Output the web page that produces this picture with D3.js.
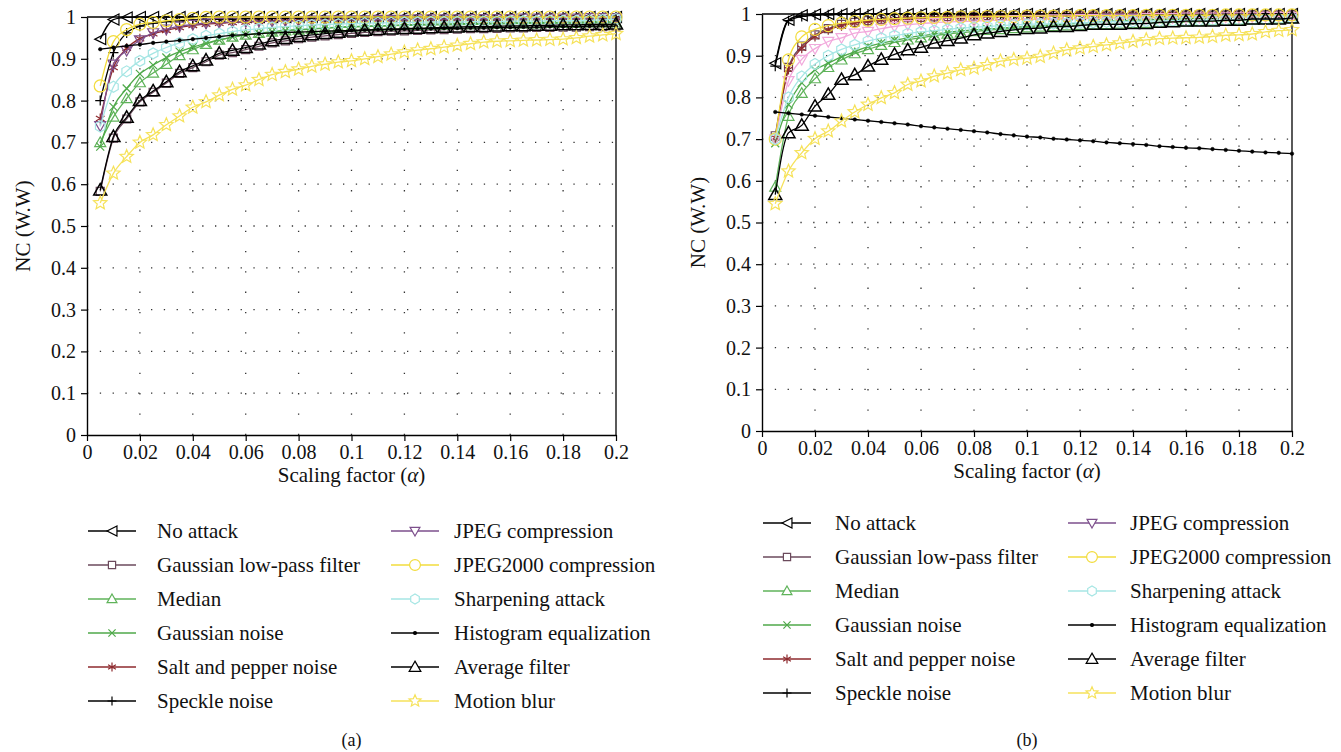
<!DOCTYPE html>
<html>
<head>
<meta charset="utf-8">
<script src="https://cdn.jsdelivr.net/npm/d3@7"></script>
<style>
  body { margin: 0; background: #fff; }
  svg { display: block; font-family: "Liberation Serif", "Times New Roman", serif; }
</style>
</head>
<body>
<svg width="1341" height="752"></svg>
<script>
// ---- data ----
const alphaValues = [0.005, 0.01, 0.015, 0.02, 0.025, 0.03, 0.035, 0.04, 0.045, 0.05,
  0.055, 0.06, 0.065, 0.07, 0.075, 0.08, 0.085, 0.09, 0.095, 0.1,
  0.105, 0.11, 0.115, 0.12, 0.125, 0.13, 0.135, 0.14, 0.145, 0.15,
  0.155, 0.16, 0.165, 0.17, 0.175, 0.18, 0.185, 0.19, 0.195, 0.2];

const xTicks = [0, 0.02, 0.04, 0.06, 0.08, 0.1, 0.12, 0.14, 0.16, 0.18, 0.2];
const xTickLabels = ["0", "0.02", "0.04", "0.06", "0.08", "0.1", "0.12", "0.14", "0.16", "0.18", "0.2"];
const yTicks = [0, 0.1, 0.2, 0.3, 0.4, 0.5, 0.6, 0.7, 0.8, 0.9, 1];
const yTickLabels = ["0", "0.1", "0.2", "0.3", "0.4", "0.5", "0.6", "0.7", "0.8", "0.9", "1"];

const seriesNames = ["No attack", "Gaussian low-pass filter", "Median", "Gaussian noise",
  "Salt and pepper noise", "Speckle noise", "JPEG compression", "JPEG2000 compression",
  "Sharpening attack", "Histogram equalization", "Average filter", "Motion blur"];

// panel (a)
const noAttackA = [0.947, 0.994, 0.999, 1, 1, 1, 1, 1, 1, 1,
  1, 1, 1, 1, 1, 1, 1, 1, 1, 1,
  1, 1, 1, 1, 1, 1, 1, 1, 1, 1,
  1, 1, 1, 1, 1, 1, 1, 1, 1, 1];
const lowPassA = [0.583, 0.710, 0.756, 0.797, 0.820, 0.842, 0.865, 0.879, 0.893, 0.909,
  0.915, 0.922, 0.930, 0.938, 0.943, 0.948, 0.952, 0.955, 0.958, 0.961,
  0.963, 0.965, 0.966, 0.967, 0.968, 0.969, 0.970, 0.971, 0.972, 0.972,
  0.973, 0.974, 0.974, 0.975, 0.975, 0.976, 0.976, 0.977, 0.977, 0.978];
const medianA = [0.700, 0.761, 0.805, 0.843, 0.866, 0.887, 0.908, 0.922, 0.935, 0.945,
  0.952, 0.957, 0.961, 0.964, 0.967, 0.969, 0.971, 0.973, 0.975, 0.976,
  0.977, 0.978, 0.979, 0.980, 0.980, 0.981, 0.981, 0.982, 0.982, 0.983,
  0.983, 0.984, 0.984, 0.984, 0.985, 0.985, 0.985, 0.986, 0.986, 0.986];
const gaussNoiseA = [0.690, 0.785, 0.829, 0.864, 0.885, 0.903, 0.917, 0.928, 0.937, 0.945,
  0.952, 0.957, 0.961, 0.965, 0.968, 0.970, 0.972, 0.974, 0.976, 0.977,
  0.978, 0.979, 0.980, 0.981, 0.982, 0.983, 0.983, 0.984, 0.984, 0.985,
  0.985, 0.986, 0.986, 0.987, 0.987, 0.987, 0.988, 0.988, 0.988, 0.989];
const saltPepperA = [0.757, 0.879, 0.925, 0.948, 0.960, 0.968, 0.975, 0.980, 0.983, 0.985,
  0.987, 0.988, 0.989, 0.990, 0.991, 0.992, 0.992, 0.993, 0.993, 0.994,
  0.994, 0.994, 0.995, 0.995, 0.995, 0.996, 0.996, 0.996, 0.996, 0.997,
  0.997, 0.997, 0.997, 0.997, 0.998, 0.998, 0.998, 0.998, 0.998, 0.998];
const speckleA = [0.800, 0.915, 0.962, 0.978, 0.985, 0.989, 0.991, 0.993, 0.994, 0.995,
  0.995, 0.996, 0.996, 0.997, 0.997, 0.997, 0.998, 0.998, 0.998, 0.998,
  0.998, 0.999, 0.999, 0.999, 0.999, 0.999, 0.999, 0.999, 0.999, 0.999,
  1, 1, 1, 1, 1, 1, 1, 1, 1, 1];
const jpegA = [0.740, 0.887, 0.920, 0.945, 0.962, 0.971, 0.978, 0.982, 0.985, 0.987,
  0.988, 0.989, 0.990, 0.990, 0.991, 0.991, 0.992, 0.992, 0.993, 0.993,
  0.993, 0.994, 0.994, 0.994, 0.995, 0.995, 0.995, 0.995, 0.996, 0.996,
  0.996, 0.996, 0.997, 0.997, 0.997, 0.997, 0.997, 0.998, 0.998, 0.998];
const jpeg2000A = [0.835, 0.941, 0.970, 0.983, 0.987, 0.991, 0.994, 0.997, 0.999, 1,
  1, 1, 1, 1, 1, 1, 1, 1, 1, 1,
  1, 1, 1, 1, 1, 1, 1, 1, 1, 1,
  1, 1, 1, 1, 1, 1, 1, 1, 1, 1];
const sharpenA = [0.738, 0.833, 0.870, 0.895, 0.913, 0.927, 0.938, 0.947, 0.955, 0.960,
  0.965, 0.969, 0.972, 0.975, 0.977, 0.979, 0.981, 0.982, 0.983, 0.984,
  0.985, 0.986, 0.986, 0.987, 0.987, 0.988, 0.988, 0.988, 0.989, 0.989,
  0.989, 0.990, 0.990, 0.990, 0.991, 0.991, 0.991, 0.992, 0.993, 0.995];
const histEqA = [0.923, 0.927, 0.931, 0.934, 0.938, 0.941, 0.944, 0.947, 0.950, 0.953,
  0.956, 0.958, 0.960, 0.962, 0.963, 0.964, 0.965, 0.966, 0.967, 0.968,
  0.969, 0.970, 0.970, 0.971, 0.972, 0.972, 0.973, 0.973, 0.974, 0.974,
  0.975, 0.975, 0.976, 0.976, 0.977, 0.977, 0.977, 0.978, 0.978, 0.978];
const averageA = [0.586, 0.714, 0.760, 0.800, 0.823, 0.845, 0.869, 0.883, 0.897, 0.913,
  0.920, 0.927, 0.935, 0.943, 0.948, 0.953, 0.957, 0.960, 0.963, 0.966,
  0.968, 0.970, 0.971, 0.972, 0.973, 0.974, 0.975, 0.976, 0.977, 0.977,
  0.978, 0.979, 0.979, 0.980, 0.980, 0.981, 0.981, 0.982, 0.982, 0.983];
const motionBlurA = [0.555, 0.626, 0.666, 0.700, 0.718, 0.742, 0.763, 0.784, 0.797, 0.813,
  0.827, 0.837, 0.850, 0.862, 0.869, 0.875, 0.882, 0.887, 0.892, 0.895,
  0.900, 0.905, 0.911, 0.916, 0.921, 0.924, 0.928, 0.932, 0.936, 0.940,
  0.942, 0.943, 0.944, 0.945, 0.946, 0.947, 0.950, 0.954, 0.957, 0.960];

// panel (b)
const noAttackB = [0.882, 0.986, 0.997, 0.999, 1, 1, 1, 1, 1, 1,
  1, 1, 1, 1, 1, 1, 1, 1, 1, 1,
  1, 1, 1, 1, 1, 1, 1, 1, 1, 1,
  1, 1, 1, 1, 1, 1, 1, 1, 1, 1];
const lowPassB = [0.708, 0.872, 0.923, 0.950, 0.965, 0.975, 0.980, 0.984, 0.987, 0.989,
  0.991, 0.992, 0.993, 0.994, 0.995, 0.995, 0.996, 0.996, 0.997, 0.997,
  0.997, 0.997, 0.997, 0.997, 0.998, 0.998, 0.998, 0.998, 0.998, 0.998,
  0.998, 0.998, 0.998, 0.998, 0.998, 0.998, 0.998, 0.998, 0.998, 0.998];
const medianB = [0.585, 0.755, 0.810, 0.845, 0.872, 0.890, 0.905, 0.915, 0.925, 0.932,
  0.938, 0.943, 0.948, 0.952, 0.955, 0.958, 0.961, 0.963, 0.965, 0.967,
  0.969, 0.970, 0.972, 0.973, 0.974, 0.975, 0.976, 0.977, 0.978, 0.979,
  0.980, 0.981, 0.982, 0.983, 0.984, 0.985, 0.986, 0.987, 0.988, 0.989];
const gaussNoiseB = [0.690, 0.783, 0.835, 0.866, 0.882, 0.897, 0.910, 0.922, 0.930, 0.937,
  0.943, 0.948, 0.952, 0.956, 0.959, 0.962, 0.964, 0.966, 0.968, 0.970,
  0.972, 0.974, 0.976, 0.978, 0.980, 0.982, 0.984, 0.985, 0.986, 0.987,
  0.988, 0.989, 0.990, 0.991, 0.992, 0.993, 0.994, 0.995, 0.996, 0.997];
const saltPepperB = [0.703, 0.867, 0.918, 0.946, 0.962, 0.972, 0.978, 0.982, 0.985, 0.987,
  0.989, 0.990, 0.991, 0.992, 0.993, 0.994, 0.995, 0.996, 0.997, 0.998,
  0.998, 0.999, 0.999, 1, 1, 1, 1, 1, 1, 1,
  1, 1, 1, 1, 1, 1, 1, 1, 1, 1];
const speckleB = [0.875, 0.984, 0.994, 0.997, 0.998, 0.999, 1, 1, 1, 1,
  1, 1, 1, 1, 1, 1, 1, 1, 1, 1,
  1, 1, 1, 1, 1, 1, 1, 1, 1, 1,
  1, 1, 1, 1, 1, 1, 1, 1, 1, 1];
const jpegB = [0.700, 0.840, 0.891, 0.917, 0.934, 0.943, 0.954, 0.958, 0.965, 0.970,
  0.974, 0.977, 0.979, 0.981, 0.982, 0.983, 0.984, 0.985, 0.986, 0.987,
  0.987, 0.988, 0.988, 0.989, 0.989, 0.990, 0.990, 0.990, 0.991, 0.991,
  0.991, 0.992, 0.992, 0.992, 0.993, 0.993, 0.993, 0.994, 0.994, 0.994];
const jpeg2000B = [0.700, 0.890, 0.945, 0.963, 0.972, 0.978, 0.982, 0.985, 0.987, 0.989,
  0.990, 0.991, 0.992, 0.992, 0.993, 0.993, 0.994, 0.994, 0.994, 0.995,
  0.995, 0.995, 0.995, 0.996, 0.996, 0.996, 0.996, 0.996, 0.997, 0.997,
  0.997, 0.997, 0.997, 0.997, 0.998, 0.998, 0.998, 0.998, 0.998, 0.998];
const sharpenB = [0.700, 0.800, 0.850, 0.880, 0.900, 0.915, 0.926, 0.935, 0.942, 0.948,
  0.953, 0.957, 0.960, 0.963, 0.966, 0.968, 0.970, 0.972, 0.974, 0.975,
  0.976, 0.977, 0.978, 0.979, 0.980, 0.981, 0.982, 0.982, 0.983, 0.983,
  0.984, 0.984, 0.985, 0.985, 0.986, 0.986, 0.987, 0.987, 0.988, 0.990];
const histEqB = [0.765, 0.762, 0.759, 0.756, 0.753, 0.750, 0.747, 0.744, 0.741, 0.738,
  0.735, 0.731, 0.728, 0.725, 0.722, 0.719, 0.716, 0.712, 0.709, 0.706,
  0.704, 0.701, 0.699, 0.697, 0.695, 0.692, 0.690, 0.688, 0.686, 0.683,
  0.681, 0.679, 0.678, 0.676, 0.674, 0.672, 0.670, 0.668, 0.667, 0.665];
const averageB = [0.567, 0.715, 0.733, 0.779, 0.807, 0.843, 0.854, 0.875, 0.891, 0.903,
  0.914, 0.920, 0.930, 0.936, 0.942, 0.950, 0.954, 0.958, 0.962, 0.965,
  0.966, 0.970, 0.970, 0.972, 0.975, 0.975, 0.975, 0.977, 0.977, 0.980,
  0.981, 0.983, 0.983, 0.983, 0.985, 0.985, 0.988, 0.988, 0.988, 0.990];
const motionBlurB = [0.545, 0.623, 0.667, 0.701, 0.719, 0.743, 0.765, 0.783, 0.799, 0.811,
  0.831, 0.839, 0.851, 0.858, 0.866, 0.870, 0.878, 0.887, 0.891, 0.894,
  0.898, 0.906, 0.914, 0.918, 0.922, 0.926, 0.930, 0.934, 0.938, 0.941,
  0.942, 0.943, 0.944, 0.946, 0.949, 0.950, 0.952, 0.957, 0.960, 0.962];

// ---- styles ----
const styles = [
  { marker: "triLeft", size: 11, color: "#000000" },
  { marker: "square", size: 8, color: "#6b4a5c" },
  { marker: "triUp", size: 11, color: "#5fb35a" },
  { marker: "times", size: 8, color: "#4fa94a" },
  { marker: "asterisk", size: 10, color: "#8e2a2e" },
  { marker: "plus", size: 10, color: "#000000" },
  { marker: "triDown", size: 11, color: "#7d4f8c" },
  { marker: "circle", size: 12, color: "#f2dc3c" },
  { marker: "hexagon", size: 11, color: "#a6e6e4" },
  { marker: "dot", size: 3.6, color: "#000000" },
  { marker: "triUp", size: 13, color: "#000000" },
  { marker: "star", size: 14, color: "#f6e25a" }
];

function markerPath(type, s) {
  const h = s / 2;
  if (type === "triLeft") return `M${h},${-h}L${-h},0L${h},${h}Z`;
  if (type === "square") return `M${-h},${-h}H${h}V${h}H${-h}Z`;
  if (type === "triUp") return `M0,${-h}L${h},${h * 0.75}L${-h},${h * 0.75}Z`;
  if (type === "triDown") return `M0,${h}L${h},${-h * 0.75}L${-h},${-h * 0.75}Z`;
  if (type === "times") return `M${-h},${-h}L${h},${h}M${-h},${h}L${h},${-h}`;
  if (type === "plus") return `M${-h},0H${h}M0,${-h}V${h}`;
  if (type === "asterisk") {
    const a = h * 0.87, b = h * 0.5;
    return `M0,${-h}V${h}M${-a},${-b}L${a},${b}M${-a},${b}L${a},${-b}`;
  }
  if (type === "circle" || type === "dot")
    return `M${h},0A${h},${h} 0 1,1 ${-h},0A${h},${h} 0 1,1 ${h},0Z`;
  if (type === "hexagon") {
    const pts = d3.range(6).map(i => {
      const t = Math.PI / 6 + i * Math.PI / 3;
      return [h * Math.cos(t), h * Math.sin(t)];
    });
    return "M" + pts.join("L") + "Z";
  }
  if (type === "star") {
    const pts = d3.range(10).map(i => {
      const r = i % 2 === 0 ? h : h * 0.45;
      const t = -Math.PI / 2 + i * Math.PI / 5;
      return [r * Math.cos(t), r * Math.sin(t)];
    });
    return "M" + pts.join("L") + "Z";
  }
  return "";
}

const svg = d3.select("svg");

function drawPanel(cfg) {
  const x = d3.scaleLinear().domain([0, 0.2]).range([cfg.left, cfg.right]);
  const y = d3.scaleLinear().domain([0, 1]).range([cfg.bottom, cfg.top]);
  const g = svg.append("g");

  // dotted grid
  g.selectAll(".vgrid")
    .data(xTicks.slice(1, -1))
    .enter()
    .append("line")
    .attr("x1", d => x(d)).attr("x2", d => x(d))
    .attr("y1", cfg.bottom).attr("y2", cfg.top)
    .attr("stroke", "#333").attr("stroke-width", 1.3)
    .attr("stroke-dasharray", "1.3,19");

  g.selectAll(".hgrid")
    .data(yTicks.slice(1, -1))
    .enter()
    .append("line")
    .attr("x1", cfg.left).attr("x2", cfg.right)
    .attr("y1", d => y(d)).attr("y2", d => y(d))
    .attr("stroke", "#333").attr("stroke-width", 1.3)
    .attr("stroke-dasharray", "1.3,11.5");

  // top and right border
  g.append("line")
    .attr("x1", cfg.left).attr("x2", cfg.right)
    .attr("y1", cfg.top).attr("y2", cfg.top)
    .attr("stroke", "#000").attr("stroke-width", 1.3);
  g.append("line")
    .attr("x1", cfg.right).attr("x2", cfg.right)
    .attr("y1", cfg.top).attr("y2", cfg.bottom)
    .attr("stroke", "#000").attr("stroke-width", 1.3);

  // series
  const line = d3.line()
    .x((d, i) => x(alphaValues[i]))
    .y(d => y(d))
    .curve(d3.curveMonotoneX);

  cfg.series.forEach((vals, k) => {
    const st = styles[k];
    const color = (cfg.colorOverride && cfg.colorOverride[k]) || st.color;
    g.append("path")
      .attr("d", line(vals))
      .attr("fill", "none")
      .attr("stroke", color)
      .attr("stroke-width", 1.3);

    g.selectAll(".m" + k)
      .data(vals)
      .enter()
      .append("path")
      .attr("transform", (d, i) => `translate(${x(alphaValues[i])},${y(d)})`)
      .attr("d", markerPath(st.marker, st.size))
      .attr("fill", st.marker === "dot" ? color : "none")
      .attr("stroke", color)
      .attr("stroke-width", st.marker === "dot" ? 0.5 : (k === 10 ? 1.5 : 1.2));
  });

  // axes
  const xAxis = d3.axisBottom(x)
    .tickValues(xTicks)
    .tickFormat((d, i) => xTickLabels[i])
    .tickSizeInner(6).tickSizeOuter(0).tickPadding(4);
  const xg = g.append("g")
    .attr("transform", `translate(0,${cfg.bottom})`)
    .call(xAxis);

  const yAxis = d3.axisLeft(y)
    .tickValues(yTicks)
    .tickFormat((d, i) => yTickLabels[i])
    .tickSizeInner(6).tickSizeOuter(0).tickPadding(5);
  const yg = g.append("g")
    .attr("transform", `translate(${cfg.left},0)`)
    .call(yAxis);

  [xg, yg].forEach(a => {
    a.select(".domain").attr("stroke", "#000").attr("stroke-width", 1.4);
    a.selectAll(".tick line").attr("stroke", "#000").attr("stroke-width", 1.2);
    a.selectAll(".tick text")
      .attr("font-family", "Liberation Serif, serif")
      .attr("font-size", "20px")
      .attr("fill", "#111");
  });

  // axis titles
  const xt = g.append("text")
    .attr("x", (cfg.left + cfg.right) / 2)
    .attr("y", cfg.bottom + 47)
    .attr("text-anchor", "middle")
    .attr("font-size", "21px")
    .attr("fill", "#111");
  xt.append("tspan").text("Scaling factor (");
  xt.append("tspan").attr("font-style", "italic").text("α");
  xt.append("tspan").text(")");

  g.append("text")
    .attr("transform", `translate(${cfg.left - 57},${(cfg.top + cfg.bottom) / 2}) rotate(-90)`)
    .attr("text-anchor", "middle")
    .attr("font-size", "21px")
    .attr("fill", "#111")
    .text("NC (W.W)");

  // legend
  const legend = g.selectAll(".legend")
    .data(seriesNames)
    .enter()
    .append("g")
    .attr("transform", (d, i) => {
      const col = Math.floor(i / 6), row = i % 6;
      return `translate(${cfg.legendX[col]},${cfg.legendY + row * cfg.legendStep})`;
    });

  legend.append("line")
    .attr("x1", 0).attr("x2", 48)
    .attr("stroke", (d, i) => styles[i].color)
    .attr("stroke-width", 1.3);

  legend.append("path")
    .attr("transform", "translate(24,0)")
    .attr("d", (d, i) => markerPath(styles[i].marker, styles[i].marker === "dot" ? 3 : styles[i].size * 0.9))
    .attr("fill", (d, i) => styles[i].marker === "dot" ? styles[i].color : "#fff")
    .attr("stroke", (d, i) => styles[i].color)
    .attr("stroke-width", 1.2);

  legend.append("text")
    .attr("x", (d, i) => i < 6 ? cfg.textOffset[0] : cfg.textOffset[1])
    .attr("y", 7)
    .attr("font-size", "21px")
    .attr("fill", "#111")
    .text(d => d);

  g.append("text")
    .attr("x", (cfg.left + cfg.right) / 2)
    .attr("y", 746)
    .attr("text-anchor", "middle")
    .attr("font-size", "18px")
    .attr("fill", "#111")
    .text(cfg.label);
}

drawPanel({
  left: 87, right: 616, top: 17, bottom: 435,
  series: [noAttackA, lowPassA, medianA, gaussNoiseA, saltPepperA, speckleA,
    jpegA, jpeg2000A, sharpenA, histEqA, averageA, motionBlurA],
  legendX: [88, 391], legendY: 531, legendStep: 34, textOffset: [69, 63],
  label: "(a)"
});

drawPanel({
  left: 762, right: 1292, top: 14, bottom: 431,
  series: [noAttackB, lowPassB, medianB, gaussNoiseB, saltPepperB, speckleB,
    jpegB, jpeg2000B, sharpenB, histEqB, averageB, motionBlurB],
  colorOverride: { 6: "#f2a9dc" },
  legendX: [763, 1068], legendY: 523, legendStep: 34, textOffset: [72, 62],
  label: "(b)"
});
</script>
</body>
</html>
